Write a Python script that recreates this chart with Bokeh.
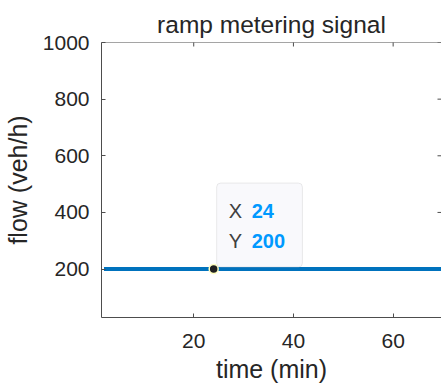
import math
from bokeh.plotting import figure
from bokeh.models import Range1d, FixedTicker, BoxAnnotation, Span
from bokeh.core.properties import value
from bokeh.embed import file_html
from bokeh.resources import INLINE

# ---- data ----
time_min = [2, 72]          # ramp metering signal (constant)
flow_vph = [200, 200]
tip_x = [24]                # data tip
tip_y = [200]
tip_labels_x = ["X"]
tip_labels_y = ["Y"]
tip_values_x = ["24"]
tip_values_y = ["200"]
x_ticks = [20, 40, 60]
y_ticks = [200, 400, 600, 800, 1000]

FONT = "Liberation Sans"
TXT = "#262626"
AX = "#4d4d4d"

W, H = 441, 385
L, R, T, B = 100, 0, 42, 68
x0, x1 = 1.5, 69.7
y0, y1 = 29, 1000

p = figure(width=W, height=H, output_backend="svg", toolbar_location=None,
           x_range=Range1d(x0, x1), y_range=Range1d(y0, y1),
           min_border_left=L, min_border_right=R, min_border_top=T, min_border_bottom=B,
           title="ramp metering signal")
p.background_fill_color = "white"
p.border_fill_color = "white"
p.outline_line_color = None
p.grid.visible = False

p.title.text_font = FONT
p.title.text_font_size = "24.5px"
p.title.text_font_style = "normal"
p.title.text_color = TXT
p.title.align = "center"
p.title.standoff = 9

for ax, ticks in ((p.xaxis[0], x_ticks), (p.yaxis[0], y_ticks)):
    ax.ticker = FixedTicker(ticks=ticks)
    ax.major_tick_in = 4
    ax.major_tick_out = 0
    ax.minor_tick_line_color = None
    ax.axis_line_color = AX
    ax.major_tick_line_color = AX
    ax.major_label_text_font = FONT
    ax.major_label_text_font_size = "21px"
    ax.major_label_text_color = TXT
    ax.axis_label_text_font = FONT
    ax.axis_label_text_font_style = "normal"
    ax.axis_label_text_color = TXT

p.xaxis.axis_label = "time (min)"
p.yaxis.axis_label = "flow (veh/h)"
p.xaxis.axis_label_text_font_size = "25px"
p.yaxis.axis_label_text_font_size = "25px"
p.xaxis.major_label_standoff = 16
p.yaxis.major_label_standoff = 12
p.xaxis.axis_label_standoff = 4
p.yaxis.axis_label_standoff = 8

# top edge of the box and inward ticks on the top and right edges
p.add_layout(Span(location=y1, dimension="width", line_color=AX, line_width=1))
p.scatter(x_ticks, [y1] * len(x_ticks), marker="dash", angle=math.pi / 2, size=8,
          line_color=AX, line_width=1)
p.scatter([x1] * len(y_ticks), y_ticks, marker="dash", size=8,
          line_color=AX, line_width=1)

p.line(time_min, flow_vph, line_color="#0072BD", line_width=4)
p.scatter(tip_x, tip_y, size=9, fill_color="#202020", line_color="#ffffc0", line_width=1.5)

# data-tip box placed with pixel offsets from the tip point
fw = W - L - R
fh = H - T - B
sx = fw / (x1 - x0)
sy = fh / (y1 - y0)
box = BoxAnnotation(left=tip_x[0] + 3 / sx, right=tip_x[0] + 89 / sx,
                    bottom=tip_y[0] + 2 / sy, top=tip_y[0] + 86 / sy,
                    fill_color="#f9f9fc", fill_alpha=1.0, line_color="#bdbdbd",
                    line_width=1, border_radius=4)
p.add_layout(box)

common = dict(text_font=value(FONT), text_font_size="20px", text_baseline="middle",
              text_align="left")
r1 = p.text(tip_x, tip_y, text=tip_labels_x, x_offset=15, y_offset=-58, text_color="#404040", **common)
r2 = p.text(tip_x, tip_y, text=tip_labels_y, x_offset=15, y_offset=-28, text_color="#404040", **common)
r3 = p.text(tip_x, tip_y, text=tip_values_x, x_offset=38, y_offset=-58, text_color="#0099FF",
            text_font_style="bold", **common)
r4 = p.text(tip_x, tip_y, text=tip_values_y, x_offset=38, y_offset=-28, text_color="#0099FF",
            text_font_style="bold", **common)
for r in (r1, r2, r3, r4):
    r.level = "overlay"

open("out.html", "w").write(file_html(p, INLINE))
